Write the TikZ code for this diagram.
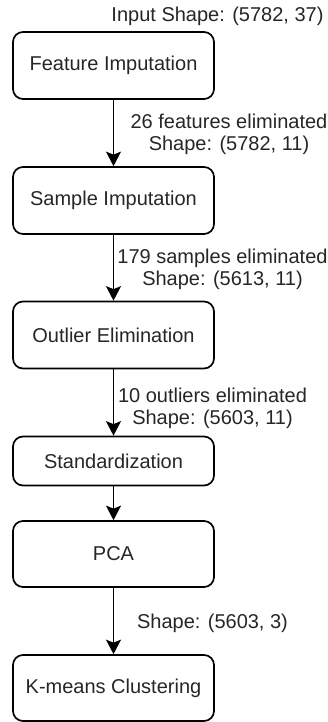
\documentclass[tikz,border=0pt]{standalone}
\usepackage{fontspec}
\setmainfont{Liberation Sans}
\usetikzlibrary{arrows.meta}
\definecolor{ink}{HTML}{262626}
\tikzset{
  x=1pt, y=-1pt,
  stage/.style={draw=black, line width=1.7pt, rounded corners=10pt,
    minimum width=201pt, inner sep=0pt, font=\fontsize{20}{24}\selectfont,
    text=ink},
  lbl/.style={font=\fontsize{20}{24}\selectfont, text=ink, inner sep=0pt,
    anchor=base},
  flow/.style={draw=black, line width=1.7pt,
    -{Stealth[length=14.5pt, width=15pt, inset=3pt]}},
}
\begin{document}
\begin{tikzpicture}
\useasboundingbox (0,0) rectangle (327,722);

% processing stages
\node[stage, minimum height=67pt] (feat) at (113.5,65.5) {Feature Imputation};
\node[stage, minimum height=67pt] (samp) at (113.5,200.5) {Sample Imputation};
\node[stage, minimum height=67pt] (outl) at (113.5,335) {Outlier Elimination};
\node[stage, minimum height=49pt] (stdz) at (113.5,461) {Standardization};
\node[stage, minimum height=66pt] (pca)  at (113.5,554) {PCA};
\node[stage, minimum height=66pt] (kmc)  at (113.5,688) {K-means Clustering};

% data shape annotations
\node[lbl] (in)  at (217.5,22) {Input Shape: (5782, 37)};
\node[lbl] (l1a) at (229,128.5) {26 features eliminated};
\node[lbl] (l1b) at (229,151) {Shape: (5782, 11)};
\node[lbl] (l2a) at (222.5,263) {179 samples eliminated};
\node[lbl] (l2b) at (222.5,285.5) {Shape: (5613, 11)};
\node[lbl] (l3a) at (212.5,402) {10 outliers eliminated};
\node[lbl] (l3b) at (212.5,424.5) {Shape: (5603, 11)};
\node[lbl] (l4)  at (212.5,628) {Shape: (5603, 3)};

% connectors
\draw[flow] (feat) -- (samp);
\draw[flow] (samp) -- (outl);
\draw[flow] (outl) -- (stdz);
\draw[flow] (stdz) -- (pca);
\draw[flow] (pca) -- (kmc);
\end{tikzpicture}
\end{document}
